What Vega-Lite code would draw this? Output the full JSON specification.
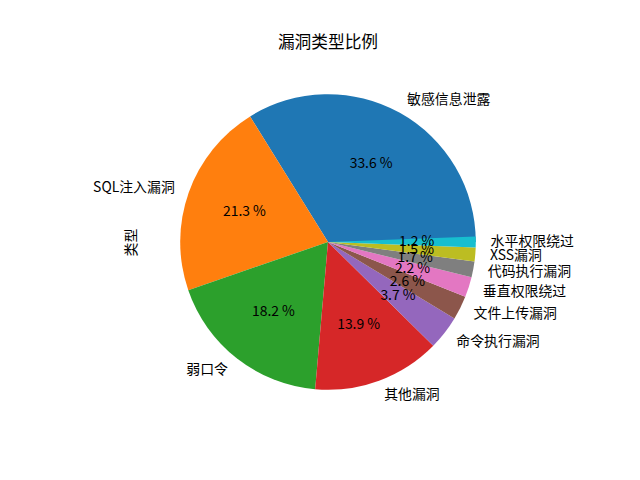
{
  "$schema": "https://vega.github.io/schema/vega-lite/v6.json",
  "width": 624,
  "height": 476,
  "autosize": "none",
  "padding": {"left": 16, "top": 4, "right": 0, "bottom": 0},
  "background": "white",
  "title": {
    "text": "漏洞类型比例",
    "offset": -45,
    "dy": 3,
    "anchor": "middle",
    "font": "Noto Sans CJK SC",
    "fontSize": 16.7,
    "fontWeight": "normal",
    "color": "black"
  },
  "data": {
    "values": [
      {"type": "敏感信息泄露", "pct": 33.6},
      {"type": "SQL注入漏洞", "pct": 21.3},
      {"type": "弱口令", "pct": 18.2},
      {"type": "其他漏洞", "pct": 13.9},
      {"type": "命令执行漏洞", "pct": 3.7},
      {"type": "文件上传漏洞", "pct": 2.6},
      {"type": "垂直权限绕过", "pct": 2.2},
      {"type": "代码执行漏洞", "pct": 1.7},
      {"type": "XSS漏洞", "pct": 1.5},
      {"type": "水平权限绕过", "pct": 1.2}
    ]
  },
  "transform": [
    {"stack": "pct", "groupby": [], "sort": [{"field": "pct", "order": "descending"}], "as": ["s0", "s1"]},
    {"calculate": "(datum.s0 + datum.s1) / 2", "as": "mid"},
    {"calculate": "format(datum.pct, '.1f') + ' %'", "as": "pctLabel"}
  ],
  "layer": [
    {
      "mark": {"type": "arc", "outerRadius": 147.8},
      "encoding": {
        "theta": {"field": "s0", "type": "quantitative", "stack": null,
          "scale": {"zero": true, "nice": false, "range": [1.5708, -4.7124]}},
        "theta2": {"field": "s1"},
        "color": {
          "field": "type",
          "type": "nominal",
          "legend": null,
          "scale": {
            "domain": ["敏感信息泄露", "SQL注入漏洞", "弱口令", "其他漏洞", "命令执行漏洞", "文件上传漏洞", "垂直权限绕过", "代码执行漏洞", "XSS漏洞", "水平权限绕过"],
            "range": ["#1f77b4", "#ff7f0e", "#2ca02c", "#d62728", "#9467bd", "#8c564b", "#e377c2", "#7f7f7f", "#bcbd22", "#17becf"]
          }
        }
      }
    },
    {
      "transform": [{"filter": "datum.type != 'SQL注入漏洞' && datum.type != '弱口令'"}],
      "mark": {"type": "text", "radius": 162.6, "align": "left", "baseline": "middle",
        "font": "Noto Sans CJK SC", "fontSize": 13.9, "color": "black"},
      "encoding": {
        "theta": {"field": "mid", "type": "quantitative", "stack": null,
          "scale": {"zero": true, "nice": false, "range": [1.5708, -4.7124]}},
        "text": {"field": "type"}
      }
    },
    {
      "transform": [{"filter": "datum.type == 'SQL注入漏洞' || datum.type == '弱口令'"}],
      "mark": {"type": "text", "radius": 162.6, "align": "right", "baseline": "middle",
        "font": "Noto Sans CJK SC", "fontSize": 13.9, "color": "black"},
      "encoding": {
        "theta": {"field": "mid", "type": "quantitative", "stack": null,
          "scale": {"zero": true, "nice": false, "range": [1.5708, -4.7124]}},
        "text": {"field": "type"}
      }
    },
    {
      "mark": {"type": "text", "radius": 88.7, "align": "center", "baseline": "middle",
        "font": "Noto Sans CJK SC", "fontSize": 13.9, "color": "black"},
      "encoding": {
        "theta": {"field": "mid", "type": "quantitative", "stack": null,
          "scale": {"zero": true, "nice": false, "range": [1.5708, -4.7124]}},
        "text": {"field": "pctLabel"}
      }
    },
    {
      "mark": {"type": "point", "opacity": 0},
      "encoding": {
        "y": {
          "field": "pct",
          "type": "quantitative",
          "axis": {"title": "类型", "labels": false, "ticks": false, "domain": false, "grid": false,
            "offset": -122, "titlePadding": 0}
        }
      }
    }
  ],
  "config": {
    "view": {"stroke": null},
    "axis": {
      "titleFont": "Noto Sans CJK SC",
      "titleFontSize": 13.9,
      "titleFontWeight": "normal",
      "titleColor": "black"
    }
  }
}
